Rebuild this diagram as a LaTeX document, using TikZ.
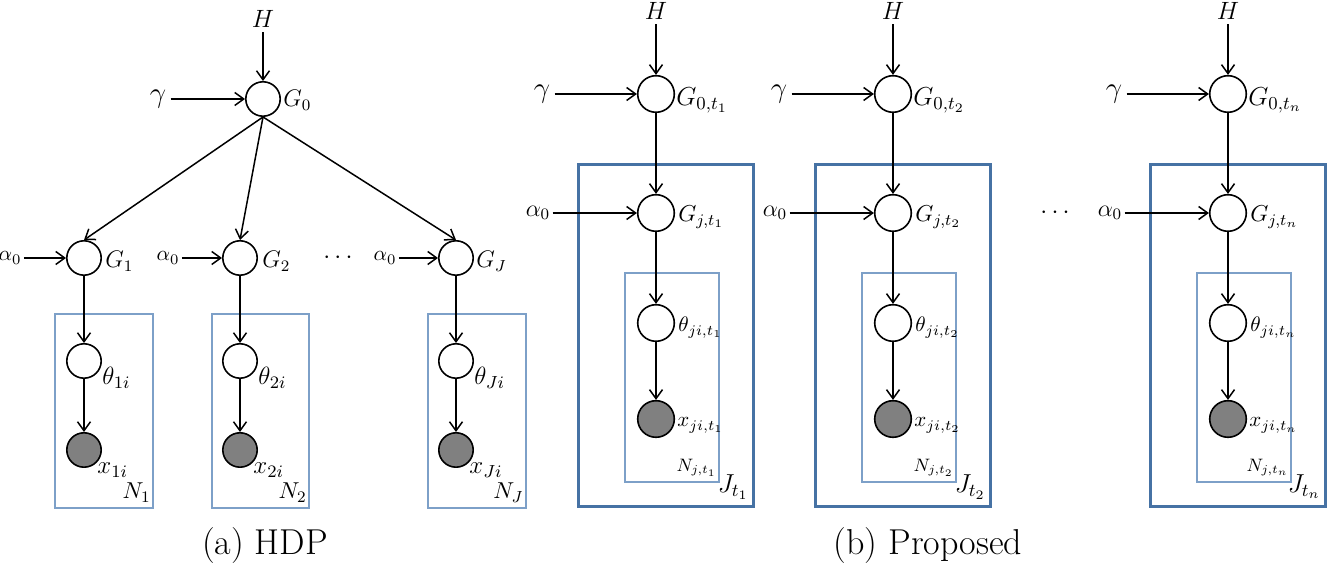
\RequirePackage{fix-cm}
\documentclass[tikz,border=0pt]{standalone}
\usetikzlibrary{arrows.meta,calc}
\definecolor{obsgray}{RGB}{128,128,128}
\definecolor{plateLight}{RGB}{125,160,200}
\definecolor{plateDark}{RGB}{70,114,164}
\tikzset{
  var/.style={circle, draw, line width=0.8pt, inner sep=0pt, minimum size=17.2pt, fill=white},
  varb/.style={var, minimum size=18.3pt},
  obs/.style={var, fill=obsgray},
  obsb/.style={varb, fill=obsgray},
  arr/.style={-{Straight Barb[length=4.5pt,width=6.5pt]}, line width=0.75pt},
  labA/.style={font=\fontsize{12.5}{15}\selectfont, inner sep=1pt},
  labX/.style={font=\fontsize{12.5}{15}\selectfont, inner sep=0.5pt},
  labL/.style={font=\fontsize{12}{14}\selectfont, inner sep=1pt},
  labNl/.style={font=\fontsize{11.5}{14}\selectfont, inner sep=0.5pt},
  labR/.style={font=\fontsize{13}{15}\selectfont, inner sep=1pt},
  labRj/.style={font=\fontsize{11.5}{14}\selectfont, inner sep=1pt},
  labB/.style={font=\fontsize{10.5}{12}\selectfont, inner sep=1pt},
  labN/.style={font=\fontsize{9}{11}\selectfont, inner sep=1pt},
  labJ/.style={font=\fontsize{13}{15}\selectfont, inner sep=1pt},
  labG/.style={font=\fontsize{14.5}{17}\selectfont, inner sep=2pt},
  labH/.style={font=\fontsize{12.5}{15}\selectfont, inner sep=2pt},
  labS/.style={font=\fontsize{10.5}{12}\selectfont, inner sep=1pt},
  labAl/.style={font=\fontsize{12}{14}\selectfont, inner sep=1pt},
  captext/.style={font=\fontsize{18}{21}\selectfont, inner sep=0pt},
  plateA/.style={draw=plateLight, line width=0.6pt},
  plateB/.style={draw=plateDark, line width=1.5pt},
  plateC/.style={draw=plateLight, line width=0.6pt},
}
\begin{document}
\begin{tikzpicture}[x=0.5pt,y=-0.5pt]
\useasboundingbox (0,0) rectangle (1328,565);

% ---------------- (a) HDP ----------------
\draw[plateA] (55,314) rectangle (153,508);
\draw[plateA] (212,314) rectangle (309,508);
\draw[plateA] (428,314) rectangle (526,508);

\node[var] (G0) at (263,99) {};
\node[labH, anchor=base] (H0) at (263,28) {$H$};
\node[labG] (gam0) at (158,99) {$\gamma$};
\node[labL, anchor=base west] (G0l) at ($(G0)+(18,8)$) {$G_0$};

\node[var] (G1) at (84,258) {};
\node[var] (G2) at (240,258) {};
\node[var] (GJ) at (456,258) {};
\node[labS] (a1) at (10,258) {$\alpha_0$};
\node[labS] (a2) at (168,258) {$\alpha_0$};
\node[labS] (aJ) at (385,258) {$\alpha_0$};
\node[labL, anchor=base west] (G1l) at ($(G1)+(19,10)$) {$G_1$};
\node[labL, anchor=base west] (G2l) at ($(G2)+(20,10)$) {$G_2$};
\node[labL, anchor=base west] (GJl) at ($(GJ)+(18,10)$) {$G_J$};
\node[labA] (dotsA) at (338,258) {$\cdots$};

\node[var] (th1) at (84,361) {};
\node[var] (th2) at (240,361) {};
\node[var] (thJ) at (456,361) {};
\node[obs] (x1) at (84,450) {};
\node[obs] (x2) at (240,450) {};
\node[obs] (xJ) at (456,450) {};
\node[labA, anchor=base west] (th1l) at ($(th1)+(16,24)$) {$\theta_{1i}$};
\node[labA, anchor=base west] (th2l) at ($(th2)+(16,24)$) {$\theta_{2i}$};
\node[labA, anchor=base west] (thJl) at ($(thJ)+(16,24)$) {$\theta_{Ji}$};
\node[labX, anchor=base west] (x1l) at ($(x1)+(12,24)$) {$x_{1i}$};
\node[labX, anchor=base west] (x2l) at ($(x2)+(12,24)$) {$x_{2i}$};
\node[labX, anchor=base west] (xJl) at ($(xJ)+(12,24)$) {$x_{Ji}$};
\node[labNl, anchor=base east] (N1) at (152,499) {$N_1$};
\node[labNl, anchor=base east] (N2) at (308,499) {$N_2$};
\node[labNl, anchor=base east] (NJ) at (525,499) {$N_J$};

\draw[arr] (H0) -- (G0);
\draw[arr] (gam0) -- (G0);
\draw[arr] (G0.south) -- (G1.north);
\draw[arr] (G0.south) -- (G2.north);
\draw[arr] (G0.south) -- (GJ.north);
\draw[arr] (a1) -- (G1);
\draw[arr] (a2) -- (G2);
\draw[arr] (aJ) -- (GJ);
\draw[arr] (G1) -- (th1);
\draw[arr] (G2) -- (th2);
\draw[arr] (GJ) -- (thJ);
\draw[arr] (th1) -- (x1);
\draw[arr] (th2) -- (x2);
\draw[arr] (thJ) -- (xJ);

\node[captext, anchor=base] (capA) at (265,555) {(a) HDP};

% ---------------- (b) Proposed ----------------
\foreach \dx/\t/\s in {0/1/p1, 237/2/p2, 572/n/pn}{
  \draw[plateB] (578+\dx,165) rectangle (753+\dx,507);
  \draw[plateC] (625+\dx,273) rectangle (719+\dx,482);
  \node[varb] (G0\s) at (656+\dx,94) {};
  \node[labH, anchor=base] (H\s) at (656+\dx,20) {$H$};
  \node[labG] (gam\s) at (542+\dx,94) {$\gamma$};
  \node[varb] (Gj\s) at (656+\dx,213) {};
  \node[labAl] (al\s) at (538+\dx,213) {$\alpha_0$};
  \node[varb] (th\s) at (656+\dx,323) {};
  \node[obsb] (x\s) at (656+\dx,419) {};
  \node[labR, anchor=base west] (G0l\s) at (674+\dx,106) {$G_{0,t_\t}$};
  \node[labRj, anchor=base west] (Gjl\s) at (676+\dx,222) {$G_{j,t_\t}$};
  \node[labB, anchor=base west] (thl\s) at (676+\dx,332) {$\theta_{ji,t_\t}$};
  \node[labB, anchor=base west] (xl\s) at (675+\dx,427) {$x_{ji,t_\t}$};
  \node[labN, anchor=base east] (N\s) at (719+\dx,472) {$N_{j,t_\t}$};
  \node[labJ, anchor=base east] (J\s) at (751+\dx,493) {$J_{t_\t}$};
  \draw[arr] (H\s) -- (G0\s);
  \draw[arr] (gam\s) -- (G0\s);
  \draw[arr] (G0\s) -- (Gj\s);
  \draw[arr] (al\s) -- (Gj\s);
  \draw[arr] (Gj\s) -- (th\s);
  \draw[arr] (th\s) -- (x\s);
}
\node[labA] (dotsB) at (1055,213) {$\cdots$};
\node[captext, anchor=base] (capB) at (928,555) {(b) Proposed};
\end{tikzpicture}
\end{document}
